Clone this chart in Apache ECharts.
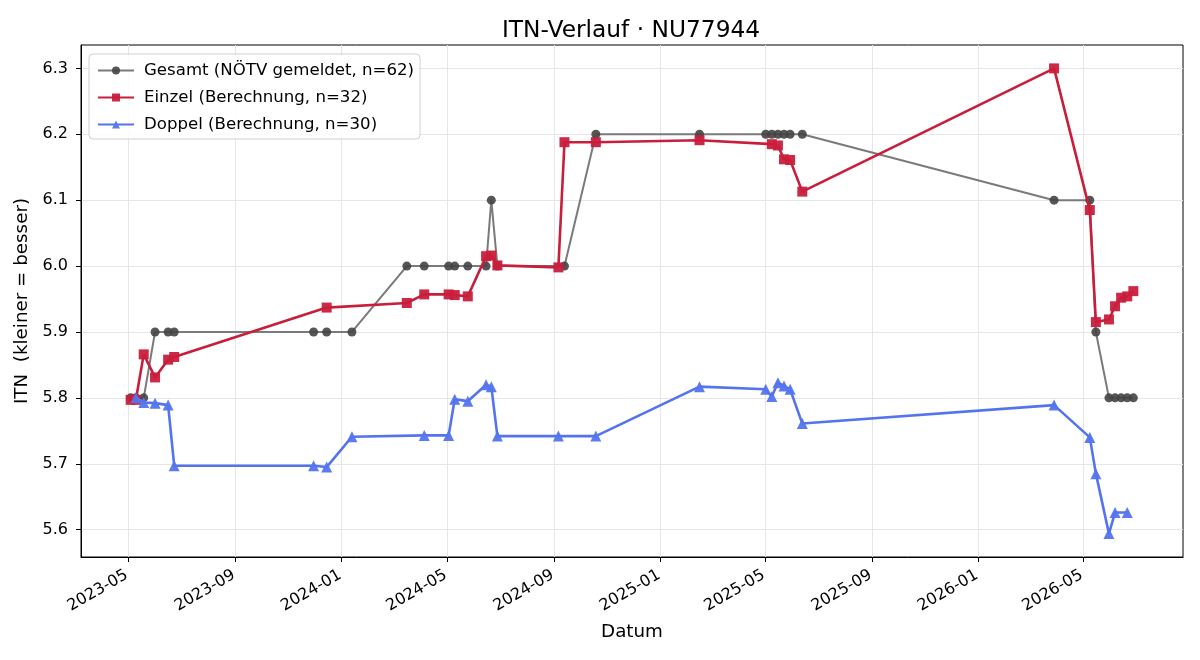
<!DOCTYPE html>
<html>
<head>
<meta charset="utf-8">
<script src="https://cdn.jsdelivr.net/npm/echarts@6/dist/echarts.min.js"></script>
<style>
  html, body { margin: 0; padding: 0; background: #fff; }
  #chart { width: 1200px; height: 660px; }
</style>
</head>
<body>
<div id="chart"></div>
<script>
const gesamtDates = ['2023-05-04', '2023-05-10', '2023-05-19', '2023-06-01', '2023-06-16', '2023-06-23',
    '2023-11-30', '2023-12-15', '2024-01-13', '2024-03-16', '2024-04-05', '2024-05-03', '2024-05-10',
    '2024-05-25', '2024-06-15', '2024-06-21', '2024-06-28', '2024-09-13', '2024-10-19', '2025-02-15',
    '2025-05-02', '2025-05-09', '2025-05-16', '2025-05-23', '2025-05-30', '2025-06-13', '2026-03-29',
    '2026-05-09', '2026-05-16', '2026-05-31', '2026-06-07', '2026-06-14', '2026-06-21', '2026-06-28'];
const gesamtValues = [5.8, 5.8, 5.8, 5.9, 5.9, 5.9,
    5.9, 5.9, 5.9, 6.0, 6.0, 6.0, 6.0,
    6.0, 6.0, 6.1, 6.0, 6.0, 6.2, 6.2,
    6.2, 6.2, 6.2, 6.2, 6.2, 6.2, 6.1,
    6.1, 5.9, 5.8, 5.8, 5.8, 5.8, 5.8];

const einzelDates = ['2023-05-04', '2023-05-10', '2023-05-19', '2023-06-01', '2023-06-16', '2023-06-23',
    '2023-12-15', '2024-03-16', '2024-04-05', '2024-05-03', '2024-05-10', '2024-05-25', '2024-06-15',
    '2024-06-21', '2024-06-28', '2024-09-06', '2024-09-13', '2024-10-19', '2025-02-15', '2025-05-09',
    '2025-05-16', '2025-05-23', '2025-05-30', '2025-06-13', '2026-03-29', '2026-05-09', '2026-05-16',
    '2026-05-31', '2026-06-07', '2026-06-14', '2026-06-21', '2026-06-28'];
const einzelValues = [5.797, 5.797, 5.866, 5.831, 5.858, 5.862,
    5.937, 5.944, 5.957, 5.957, 5.956, 5.954, 6.015,
    6.016, 6.001, 5.998, 6.188, 6.188, 6.191, 6.185,
    6.183, 6.162, 6.161, 6.113, 6.3, 6.085, 5.915,
    5.919, 5.939, 5.952, 5.954, 5.962];

const doppelDates = ['2023-05-10', '2023-05-19', '2023-06-01', '2023-06-16', '2023-06-23', '2023-11-30',
    '2023-12-15', '2024-01-13', '2024-04-05', '2024-05-03', '2024-05-10', '2024-05-25', '2024-06-15',
    '2024-06-21', '2024-06-28', '2024-09-06', '2024-10-19', '2025-02-15', '2025-05-02', '2025-05-09',
    '2025-05-16', '2025-05-23', '2025-05-30', '2025-06-13', '2026-03-29', '2026-05-09', '2026-05-16',
    '2026-05-31', '2026-06-07', '2026-06-21'];
const doppelValues = [5.8, 5.793, 5.792, 5.789, 5.697, 5.697,
    5.695, 5.741, 5.743, 5.743, 5.798, 5.795, 5.820,
    5.817, 5.742, 5.742, 5.742, 5.817, 5.813, 5.802,
    5.823, 5.818, 5.813, 5.761, 5.789, 5.740, 5.685,
    5.594, 5.626, 5.626];

const xTickLabels = ['2023-05', '2023-09', '2024-01', '2024-05', '2024-09', '2025-01',
    '2025-05', '2025-09', '2026-01', '2026-05'];
const yTickValues = [5.6, 5.7, 5.8, 5.9, 6.0, 6.1, 6.2, 6.3];

// dates as days since epoch (UTC), drawn on a plain value axis
const toDay = (s) => {
    const p = s.split('-').map(Number);
    return Date.UTC(p[0], p[1] - 1, p[2] || 1) / 86400000;
};
const pairs = (dates, values) => dates.map((d, i) => [toDay(d), values[i]]);
const xTickDays = xTickLabels.map(toDay);

const FONT = 'DejaVu Sans';
const chart = echarts.init(document.getElementById('chart'));

const option = {
    animation: false,
    backgroundColor: '#fff',
    textStyle: { fontFamily: FONT },
    title: {
        text: 'ITN-Verlauf · NU77944',
        left: 497,
        top: 14,
        textStyle: { fontFamily: FONT, fontSize: 23.3, fontWeight: 'normal', color: '#000' }
    },
    grid: {
        left: 81, right: 17, top: 45, bottom: 103,
        show: true, borderColor: '#000', borderWidth: 1, backgroundColor: 'transparent'
    },
    legend: {
        orient: 'vertical',
        left: 89,
        top: 54,
        itemWidth: 36,
        itemHeight: 10,
        itemGap: 10,
        padding: [8, 6, 6, 8],
        backgroundColor: 'rgba(255,255,255,0.85)',
        borderColor: '#d0d0d0',
        borderWidth: 1,
        borderRadius: 4,
        textStyle: { fontFamily: FONT, fontSize: 16.6, color: '#000', padding: [0, 0, 0, 5] },
        data: ['Gesamt (NÖTV gemeldet, n=62)', 'Einzel (Berechnung, n=32)', 'Doppel (Berechnung, n=30)']
    },
    xAxis: {
        type: 'value',
        min: toDay('2023-03-08'),
        max: toDay('2026-08-24'),
        name: 'Datum',
        nameLocation: 'middle',
        nameGap: 66,
        nameTextStyle: { fontFamily: FONT, fontSize: 18.3, color: '#000' },
        axisLine: { show: true, onZero: false, lineStyle: { color: '#000' } },
        axisTick: {
            show: true, length: 5, inside: false,
            customValues: xTickDays,
            lineStyle: { color: '#000' }
        },
        axisLabel: {
            customValues: xTickDays,
            rotate: 30,
            margin: 7,
            align: 'right',
            verticalAlign: 'top',
            fontFamily: FONT,
            fontSize: 16,
            color: '#000',
            formatter: (v) => '{t|' + (xTickLabels[xTickDays.indexOf(v)] || '') + '}',
            rich: {
                t: { fontFamily: FONT, fontSize: 16, color: '#000', padding: [0, 6, 0, 0] }
            }
        },
        splitLine: { show: true, lineStyle: { color: '#e6e6e6', width: 1 } }
    },
    yAxis: {
        type: 'value',
        min: 5.5585,
        max: 6.3355,
        name: 'ITN  (kleiner = besser)',
        nameLocation: 'middle',
        nameGap: 46.5,
        nameTextStyle: { fontFamily: FONT, fontSize: 18.3, color: '#000' },
        axisLine: { show: true, onZero: false, lineStyle: { color: '#000' } },
        axisTick: {
            show: true, length: 5,
            customValues: yTickValues,
            lineStyle: { color: '#000' }
        },
        axisLabel: {
            customValues: yTickValues,
            margin: 13,
            fontFamily: FONT,
            fontSize: 16,
            color: '#000',
            formatter: (v) => v.toFixed(1)
        },
        splitLine: { show: true, lineStyle: { color: '#e6e6e6', width: 1 } }
    },
    series: [
        {
            name: 'Gesamt (NÖTV gemeldet, n=62)',
            type: 'line',
            data: pairs(gesamtDates, gesamtValues),
            symbol: 'circle',
            symbolSize: 9,
            z: 2,
            lineStyle: { color: '#7a7a7a', width: 2 },
            itemStyle: { color: '#444444', opacity: 0.9 }
        },
        {
            name: 'Einzel (Berechnung, n=32)',
            type: 'line',
            data: pairs(einzelDates, einzelValues),
            symbol: 'rect',
            symbolSize: 10,
            z: 3,
            lineStyle: { color: '#c91d3c', width: 2.6 },
            itemStyle: { color: '#c91d3c', opacity: 0.95 }
        },
        {
            name: 'Doppel (Berechnung, n=30)',
            type: 'line',
            data: pairs(doppelDates, doppelValues),
            symbol: 'triangle',
            symbolSize: 11,
            z: 4,
            lineStyle: { color: '#5474ef', width: 2.6 },
            itemStyle: { color: '#5474ef', opacity: 0.95 }
        }
    ]
};

chart.setOption(option);
</script>
</body>
</html>
